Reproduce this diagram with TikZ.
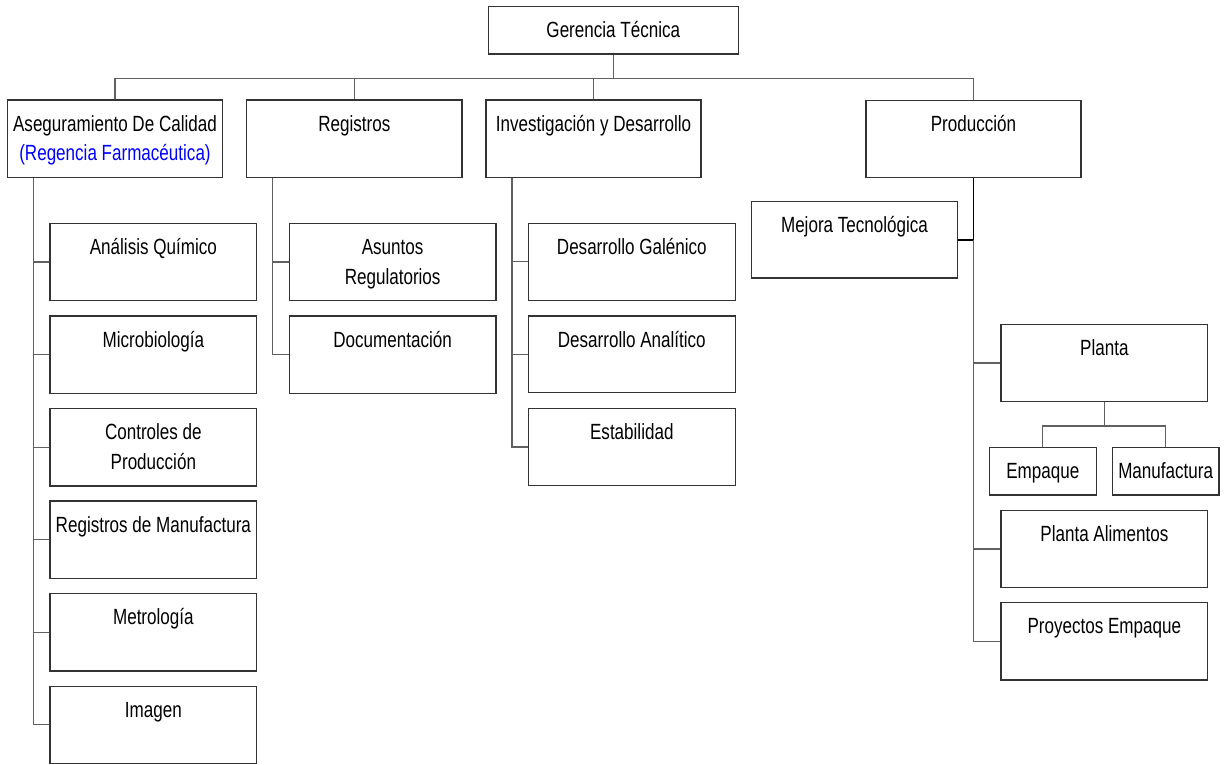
\documentclass[tikz,border=0pt]{standalone}
\usepackage{fontspec}
\setmainfont{Liberation Sans}[FakeStretch=0.775]
\begin{document}
\begin{tikzpicture}[x=1pt,y=-1pt,
  unitbox/.style={draw=black!80,line width=1.5pt,fill=white,inner sep=0pt,rectangle},
  unitlabel/.style={anchor=base,inner sep=0pt,font=\fontsize{22}{29.5}\selectfont},
  link/.style={draw=black!62,line width=1.3pt},
  strong link/.style={draw=black,line width=1.7pt}]
\useasboundingbox (0,0) rectangle (1228,764);

% box: name, left, top, right, bottom, text (baseline of the first line 32pt below the top)
\newcommand\unitcell[6]{%
  \node[unitbox,minimum width={(#4)-(#2)},minimum height={(#5)-(#3)}] (#1)
    at ({((#2)+(#4))/2},{((#3)+(#5))/2}) {};
  \node[unitlabel] (#1-t) at ([yshift=-32pt]#1.north)
    {\begin{tabular}[t]{@{}c@{}}#6\end{tabular}};}

% top level
\unitcell{ger}{488.3}{6.7}{738.3}{54}{Gerencia Técnica}

% departments
\unitcell{aseg}{7.7}{100}{222.3}{177.3}{Aseguramiento De Calidad\\\textcolor{blue}{(Regencia Farmacéutica)}}
\unitcell{reg}{246.7}{100}{462}{177.3}{Registros}
\unitcell{inv}{486}{100}{701}{177.3}{Investigación y Desarrollo}
\unitcell{prod}{866}{100.7}{1081}{177.3}{Producción}

% quality assurance
\unitcell{anq}{50}{223.3}{256.7}{300.7}{Análisis Químico}
\unitcell{mic}{50}{316}{256.7}{393.3}{Microbiología}
\unitcell{cdp}{50}{408.7}{256.7}{486}{Controles de\\Producción}
\unitcell{rdm}{50}{501}{256.7}{578.3}{Registros de Manufactura}
\unitcell{met}{50}{593.7}{256.7}{671}{Metrología}
\unitcell{ima}{50}{686.3}{256.7}{763.3}{Imagen}

% registrations
\unitcell{asr}{289.3}{223.3}{496}{300.7}{Asuntos\\Regulatorios}
\unitcell{doc}{289.3}{316}{496}{393.3}{Documentación}

% research and development
\unitcell{dga}{528.3}{223.3}{735.3}{300.3}{Desarrollo Galénico}
\unitcell{dan}{528.3}{316}{735.3}{392.7}{Desarrollo Analítico}
\unitcell{est}{528.3}{408.3}{735.3}{485.7}{Estabilidad}

% production
\unitcell{mej}{751.3}{201.3}{957.7}{278}{Mejora Tecnológica}
\unitcell{pla}{1001}{324.7}{1207.7}{401.3}{Planta}
\unitcell{emp}{989.3}{447.3}{1096.3}{495}{Empaque}
\unitcell{man}{1112.3}{447.3}{1219}{495}{Manufactura}
\unitcell{pal}{1001}{510.3}{1207.7}{587.7}{Planta Alimentos}
\unitcell{pem}{1001}{602.7}{1207.7}{680}{Proyectos Empaque}

% main bus
\coordinate (bus) at ([yshift=-23.7pt]ger.south);
\draw[link] (ger.south) -- (bus);
\draw[link] (aseg.north) |- (bus) -| (prod.north);
\draw[link] (reg.north) -- (reg.north |- bus);
\draw[link] (inv.north) -- (inv.north |- bus);

% side trunks
\coordinate (aseg-trunk) at ([xshift=26.6pt]aseg.south west);
\draw[link] (aseg-trunk) |- (ima.west);
\foreach \c in {anq,mic,cdp,rdm,met} \draw[link] (\c.west) -- (\c.west -| aseg-trunk);

\coordinate (reg-trunk) at ([xshift=26.6pt]reg.south west);
\draw[link] (reg-trunk) |- (doc.west);
\draw[link] (asr.west) -- (asr.west -| reg-trunk);

\coordinate (inv-trunk) at ([xshift=26.7pt]inv.south west);
\draw[link] (inv-trunk) |- (est.west);
\foreach \c in {dga,dan} \draw[link] (\c.west) -- (\c.west -| inv-trunk);

% production trunk
\coordinate (prod-mej) at (prod.south |- mej.east);
\draw[strong link] (prod.south) -- (prod-mej) -- (mej.east);
\draw[link] (prod-mej) |- (pem.west);
\foreach \c in {pla,pal} \draw[link] (\c.west) -- (\c.west -| prod.south);

% plant split
\coordinate (pla-bar) at ([yshift=-24pt]pla.south);
\draw[link] (pla.south) -- (pla-bar);
\draw[link] (emp.north) |- (pla-bar) -| (man.north);
\end{tikzpicture}
\end{document}
